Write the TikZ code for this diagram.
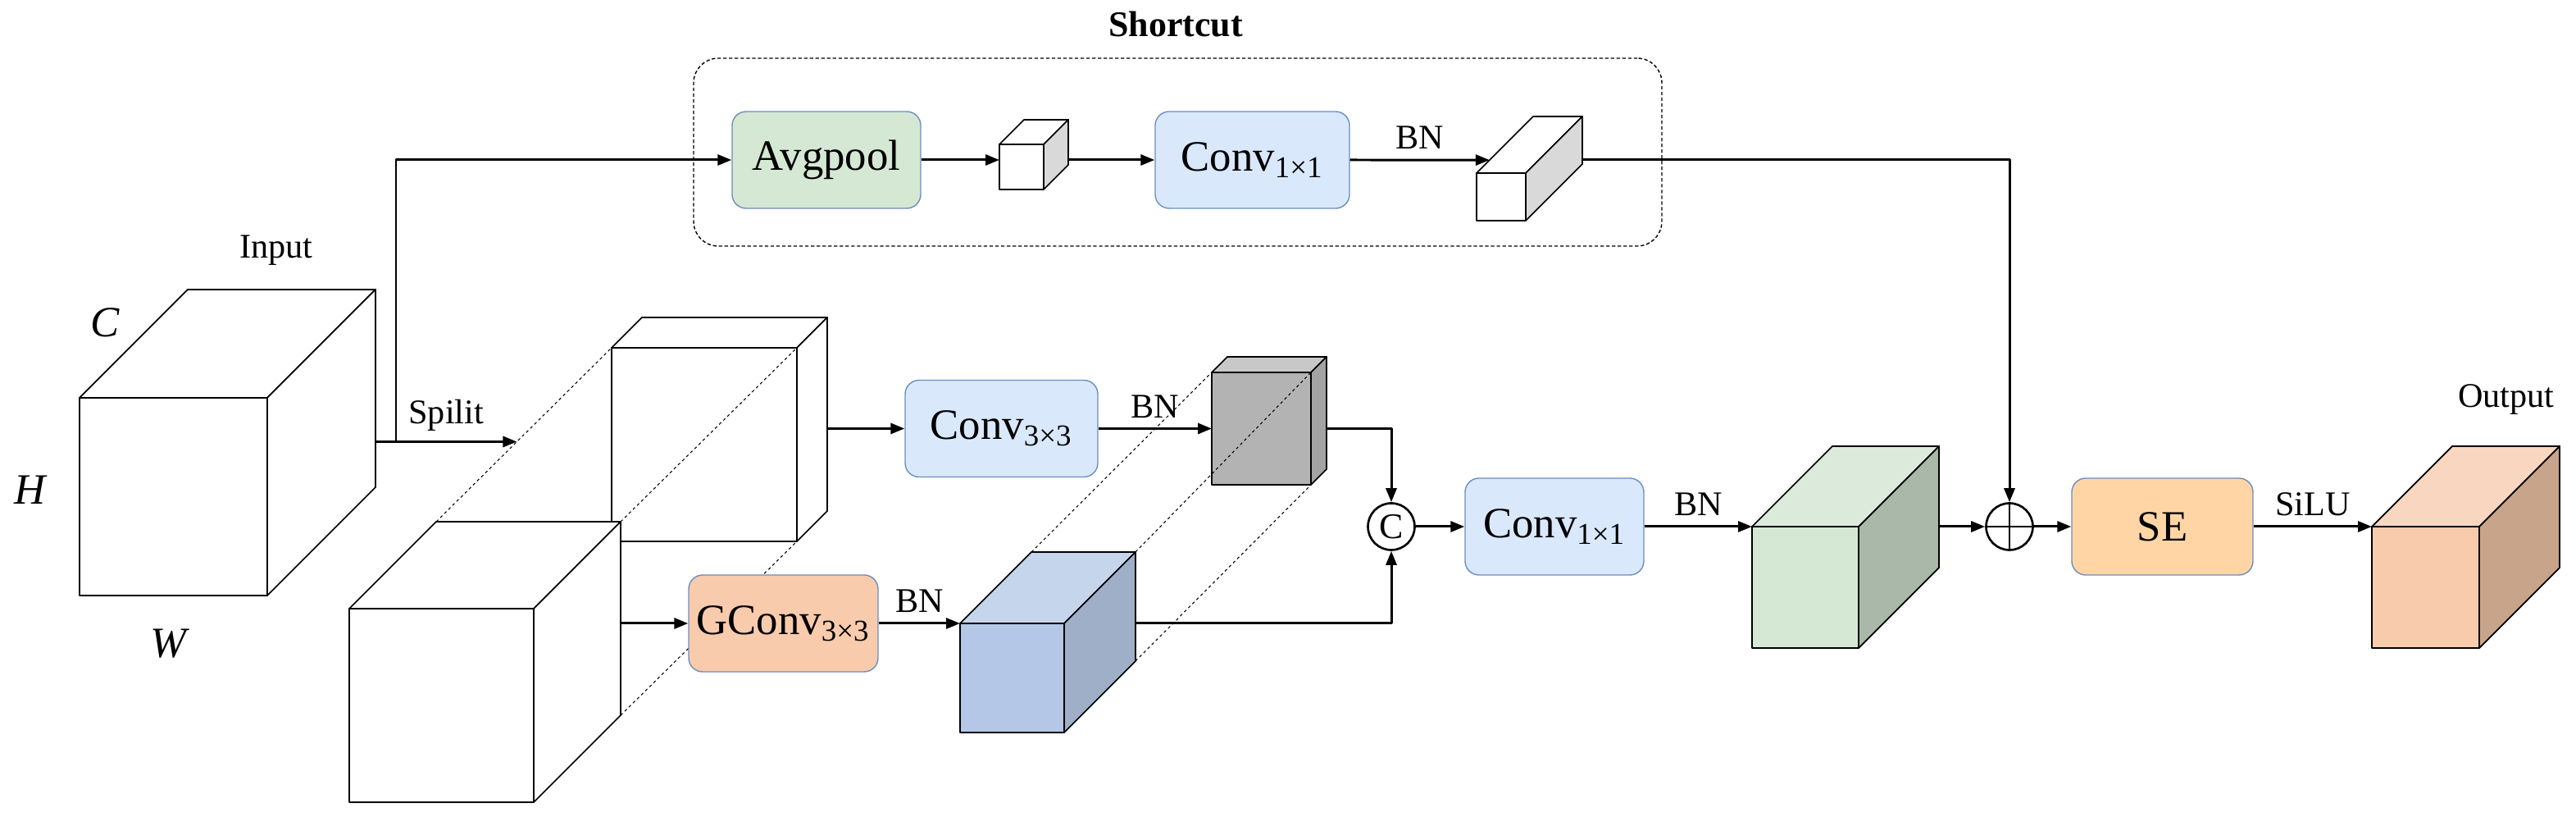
\documentclass[tikz,border=0pt]{standalone}
\usepackage{fontspec}
\setmainfont{Liberation Serif}
\usetikzlibrary{calc,arrows.meta}
\definecolor{boxline}{HTML}{6C8EBF}
\definecolor{poolgreen}{HTML}{D5E8D4}
\definecolor{convblue}{HTML}{DAE8FC}
\definecolor{gconvred}{HTML}{F8CBAD}
\definecolor{seorange}{HTML}{FFD5A6}
\definecolor{greyfront}{HTML}{B3B3B3}
\definecolor{greytop}{HTML}{C8C8C8}
\definecolor{greyside}{HTML}{A3A3A3}
\definecolor{bluefront}{HTML}{B4C7E7}
\definecolor{bluetop}{HTML}{C5D5EB}
\definecolor{blueside}{HTML}{9FAFC8}
\definecolor{greenfront}{HTML}{D5E8D4}
\definecolor{greentop}{HTML}{DCEADB}
\definecolor{greenside}{HTML}{A9B8A8}
\definecolor{outfront}{HTML}{F8CBAD}
\definecolor{outtop}{HTML}{F9D6C0}
\definecolor{outside}{HTML}{C8A48B}
\definecolor{lightside}{HTML}{D9D9D9}
% name, x, y (front bottom left), width, height, depth, front, top, side
\newcommand{\blockcube}[9]{
	\coordinate (#1-fbl) at (#2,#3);
	\coordinate (#1-fbr) at (#2+#4,#3);
	\coordinate (#1-ftr) at (#2+#4,#3+#5);
	\coordinate (#1-ftl) at (#2,#3+#5);
	\coordinate (#1-btl) at (#2+#6,#3+#5+#6);
	\coordinate (#1-btr) at (#2+#4+#6,#3+#5+#6);
	\coordinate (#1-bbr) at (#2+#4+#6,#3+#6);
	\filldraw[line width=0.5pt,fill=#7] (#1-fbl) rectangle (#1-ftr);
	\filldraw[line width=0.5pt,fill=#8] (#1-ftl)--(#1-btl)--(#1-btr)--(#1-ftr)--cycle;
	\filldraw[line width=0.5pt,fill=#9] (#1-fbr)--(#1-ftr)--(#1-btr)--(#1-bbr)--cycle;
}
\begin{document}
\begin{tikzpicture}[line join=round,>={Triangle[length=1.7mm,width=1.3mm]},font=\fontsize{12}{14}\selectfont]
			\tikzset{block/.style={draw=boxline,line width=0.4pt,rounded corners=1.7mm,minimum height=1.18cm,inner sep=0pt,font=\fontsize{15}{18}\selectfont},
				flow/.style={->,line width=0.85pt},
				guide/.style={line width=0.3pt,dash pattern=on 1pt off 1pt},
				opnode/.style={circle,draw,line width=0.75pt,minimum size=0.57cm,inner sep=0pt},
				dimlabel/.style={font=\itshape\fontsize{15}{18}\selectfont}}
			\useasboundingbox (0,0) rectangle (31.42,9.96);
			% shortcut frame
			\node[draw,rounded corners=3mm,line width=0.4pt,dash pattern=on 1.2pt off 0.8pt,minimum width=11.81cm,minimum height=2.29cm] (frame) at (14.365,8.105) {};
			\node[font=\bfseries\fontsize{12.5}{15}\selectfont] (shortcut) at (14.34,9.66) {Shortcut};
			% input
			\blockcube{in}{0.97}{2.70}{2.29}{2.41}{1.32}{white}{white}{white}
			\node (input) at (3.37,6.91) {Input};
			\node[dimlabel] (dimc) at (1.28,6.03) {C};
			\node[dimlabel] (dimh) at (0.365,3.99) {H};
			\node[dimlabel] (dimw) at (2.05,2.11) {W};
			% split halves
			\blockcube{sa}{7.46}{3.36}{2.26}{2.36}{0.37}{white}{white}{white}
			\blockcube{sb}{4.26}{0.18}{2.25}{2.36}{1.06}{white}{white}{white}
			\draw[guide] (sb-btl)--(sa-ftl) (sb-btr)--(sa-ftr) (sb-bbr)--(sa-fbr);
			% branch outputs
			\blockcube{gy}{14.78}{4.05}{1.21}{1.37}{0.19}{greyfront}{greytop}{greyside}
			\blockcube{bl}{11.71}{1.03}{1.27}{1.33}{0.87}{bluefront}{bluetop}{blueside}
			\draw[guide] (bl-btl)--(gy-ftl) (bl-btr)--(gy-ftr) (bl-bbr)--(gy-fbr);
			\blockcube{gr}{21.37}{2.06}{1.30}{1.48}{0.98}{greenfront}{greentop}{greenside}
			\blockcube{out}{28.93}{2.06}{1.31}{1.48}{0.98}{outfront}{outtop}{outside}
			\node (output) at (30.57,5.09) {Output};
			\blockcube{sc}{12.19}{7.65}{0.54}{0.55}{0.30}{white}{white}{lightside}
			\blockcube{tc}{18.01}{7.27}{0.60}{0.58}{0.69}{white}{white}{lightside}
			% operations
			\node[block,fill=poolgreen,minimum width=2.30cm] (ap) at (10.08,8.01) {Avgpool};
			\node[block,fill=convblue,minimum width=2.37cm] (c1a) at (15.275,8.01) {Conv\textsubscript{1×1}};
			\node[block,fill=convblue,minimum width=2.35cm] (c3) at (12.215,4.735) {Conv\textsubscript{3×3}};
			\node[block,fill=gconvred,minimum width=2.31cm] (gc) at (9.555,2.36) {GConv\textsubscript{3×3}};
			\node[opnode,font=\fontsize{12.5}{15}\selectfont] (cat) at (16.97,3.54) {C};
			\node[block,fill=convblue,minimum width=2.18cm] (c1b) at (18.96,3.54) {Conv\textsubscript{1×1}};
			\node[opnode] (add) at (24.51,3.54) {};
			\draw[line width=0.5pt] (add.north)--(add.south) (add.west)--(add.east);
			\node[block,fill=seorange,minimum width=2.21cm] (se) at (26.375,3.54) {SE};
			% connectors
			\coordinate (spl) at ($(sb-btl)!.46!(sa-ftl)$);
			\coordinate (fork) at ($(in-bbr |- spl)+(0.25,0)$);
			\draw[flow] (in-bbr |- spl)--(spl) node[midway,above] {Spilit};
			\draw[flow] (fork) |- (ap.west);
			\draw[flow] (ap.east)--(ap.east -| sc-fbl);
			\draw[flow] (c1a.west -| sc-bbr)--(c1a.west);
			\draw[flow] (c1a.east)--($(tc-ftl)!.23!(tc-btl)$) node[midway,above] {BN};
			\draw[flow] (c1a.east -| tc-bbr) -| (add.north);
			\draw[flow] (c3.west -| sa-bbr)--(c3.west);
			\draw[flow] (c3.east)--(c3.east -| gy-fbl) node[midway,above] {BN};
			\draw[flow] (c3.east -| gy-bbr) -| (cat.north);
			\draw[flow] (gc.west -| sb-bbr)--(gc.west);
			\draw[flow] (gc.east)--(bl-ftl) node[midway,above] {BN};
			\draw[flow] (bl-ftl -| bl-bbr) -| (cat.south);
			\draw[flow] (cat.east)--(c1b.west);
			\draw[flow] (c1b.east)--(gr-ftl) node[midway,above] {BN};
			\draw[flow] (gr-ftl -| gr-bbr)--(add.west);
			\draw[flow] (add.east)--(se.west);
			\draw[flow] (se.east)--(out-ftl) node[midway,above] {SiLU};
\end{tikzpicture}
\end{document}
